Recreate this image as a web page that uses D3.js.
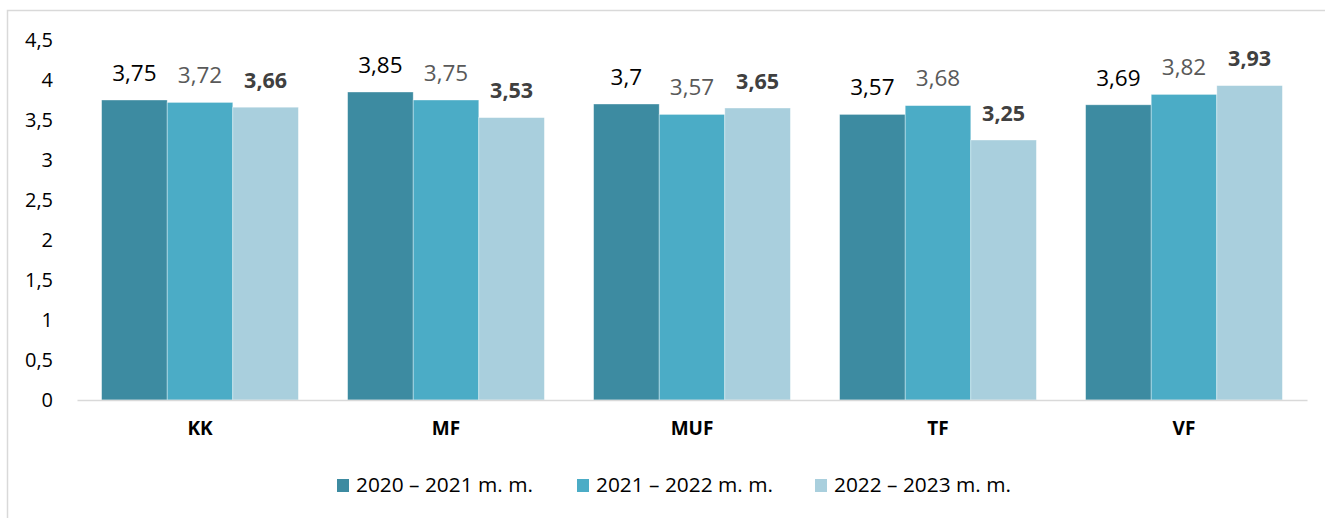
<!DOCTYPE html>
<html>
<head>
<meta charset="utf-8">
<script src="https://cdn.jsdelivr.net/npm/d3@7"></script>
<style>
  body { margin: 0; background: #fff; }
  svg { display: block; }
</style>
</head>
<body>
<div id="chart"></div>
<script>
// Dữ liệu
const categories = ["KK", "MF", "MUF", "TF", "VF"];
const seriesNames = ["2020 – 2021 m. m.", "2021 – 2022 m. m.", "2022 – 2023 m. m."];
const s2021 = [3.75, 3.85, 3.7, 3.57, 3.69];
const s2022 = [3.72, 3.75, 3.57, 3.68, 3.82];
const s2023 = [3.66, 3.53, 3.65, 3.25, 3.93];
const yTicks = [0, 0.5, 1, 1.5, 2, 2.5, 3, 3.5, 4, 4.5];

const seriesValues = [s2021, s2022, s2023];
const colors = ["#3d8ba1", "#4bacc6", "#a9cfdd"];
const labelColors = ["#000000", "#595959", "#404040"];
const labelWeights = ["normal", "normal", "bold"];

const W = 1325, H = 518;
const margin = { top: 40, right: 18, bottom: 118, left: 77 };

const svg = d3.select("#chart")
  .append("svg")
  .attr("width", W)
  .attr("height", H);

// Khung ngoài
svg.append("rect")
  .attr("x", 7.5).attr("y", 10.5)
  .attr("width", W + 20).attr("height", H + 20)
  .attr("fill", "none")
  .attr("stroke", "#d9d9d9")
  .attr("stroke-width", 1.5);

const x0 = d3.scaleBand()
  .domain(categories)
  .range([margin.left, W - margin.right])
  .paddingInner(0.2)
  .paddingOuter(0.1);

const x1 = d3.scaleBand()
  .domain(d3.range(seriesNames.length))
  .range([0, x0.bandwidth()]);

const y = d3.scaleLinear()
  .domain([0, 4.5])
  .range([H - margin.bottom, margin.top]);

const data = categories.map((c, i) => ({
  cat: c,
  vals: seriesValues.map((s, k) => ({ k, v: s[i] }))
}));

// Thanh
const groups = svg.selectAll("g.grp")
  .data(data)
  .enter()
  .append("g")
  .attr("class", "grp")
  .attr("transform", d => `translate(${x0(d.cat)},0)`);

groups.selectAll("rect")
  .data(d => d.vals)
  .enter()
  .append("rect")
  .attr("x", d => x1(d.k))
  .attr("y", d => y(d.v))
  .attr("width", x1.bandwidth())
  .attr("height", d => y(0) - y(d.v))
  .attr("fill", d => colors[d.k])
  .attr("stroke", "#ffffff")
  .attr("stroke-opacity", 0.5)
  .attr("stroke-width", 0.75);

// Nhãn giá trị
groups.selectAll("text.value")
  .data(d => d.vals)
  .enter()
  .append("text")
  .attr("class", "value")
  .attr("x", d => x1(d.k) + x1.bandwidth() / 2)
  .attr("y", d => y(d.v) - 27)
  .attr("dy", "0.35em")
  .attr("text-anchor", "middle")
  .style("font-family", "'Open Sans', sans-serif")
  .style("font-size", d => d.k === 2 ? "21.5px" : "22.5px")
  .style("font-weight", d => labelWeights[d.k])
  .style("fill", d => labelColors[d.k])
  .text(d => String(d.v).replace(".", ","));

// Trục Y
const yAxis = svg.append("g")
  .attr("transform", `translate(${margin.left},0)`)
  .call(d3.axisLeft(y).tickValues(yTicks).tickSize(0).tickPadding(24)
    .tickFormat(d => String(d).replace(".", ",")));
yAxis.select(".domain").remove();
yAxis.selectAll("text")
  .style("font-family", "'Open Sans', sans-serif")
  .style("font-size", "20px")
  .style("fill", "#000");

// Trục X
const xAxis = svg.append("g")
  .attr("transform", `translate(0,${y(0)})`)
  .call(d3.axisBottom(x0).tickSize(0).tickPadding(22));
xAxis.select(".domain")
  .attr("stroke", "#d9d9d9")
  .attr("stroke-width", 1.5);
xAxis.selectAll("text")
  .style("font-family", "'Open Sans', sans-serif")
  .style("font-size", "19px")
  .style("font-weight", "bold")
  .style("fill", "#000");

// Chú thích
const legendX = [337, 577, 815];
const legend = svg.append("g")
  .selectAll("g")
  .data(seriesNames)
  .enter()
  .append("g")
  .attr("transform", (d, i) => `translate(${legendX[i]},485)`);
legend.append("rect")
  .attr("x", 0).attr("y", -6)
  .attr("width", 12).attr("height", 13)
  .attr("fill", (d, i) => colors[i]);
legend.append("text")
  .attr("x", 19)
  .attr("dy", "0.33em")
  .attr("textLength", 177)
  .attr("lengthAdjust", "spacingAndGlyphs")
  .style("font-family", "'Open Sans', sans-serif")
  .style("font-size", "20.5px")
  .style("fill", "#000")
  .text(d => d);
</script>
</body>
</html>
